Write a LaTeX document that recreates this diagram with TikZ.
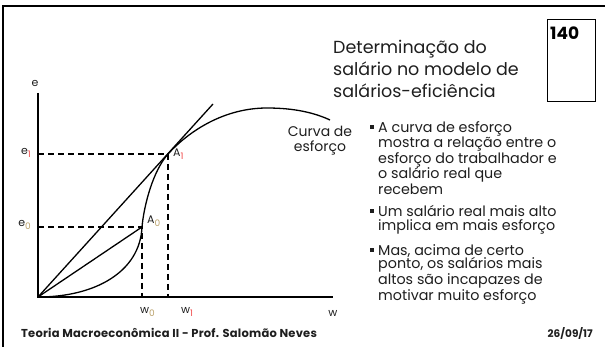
\documentclass[tikz,border=0pt]{standalone}
\usepackage{fontspec}
\setmainfont{Poppins}
\definecolor{subred}{RGB}{240,70,70}
\definecolor{subtan}{RGB}{185,160,105}
\definecolor{txt}{RGB}{30,30,30}
\newcommand{\sred}[1]{\raisebox{-0.45ex}{\fontsize{9}{9}\selectfont\color{subred}#1}}
\newcommand{\stan}[1]{\raisebox{-0.45ex}{\fontsize{9}{9}\selectfont\color{subtan}#1}}
\tikzset{
  axisline/.style={line width=1.8pt},
  curveline/.style={line width=1.3pt},
  guide/.style={line width=1.3pt, dash pattern=on 6pt off 4pt},
  lbl/.style={inner sep=0pt, font=\fontsize{11}{11}\selectfont, text=txt},
  bulletbox/.style={anchor=north west, inner sep=0pt, align=left, text=txt,
     font=\fontsize{14.3}{13.9}\selectfont},
  sq/.style={fill=txt, minimum size=4pt, inner sep=0pt},
  foottext/.style={inner sep=0pt, text=txt},
}
\begin{document}
\begin{tikzpicture}[x=1pt,y=-1pt]
\useasboundingbox (0,0) rectangle (608,347);
% frame
\draw[line width=2pt] (3,347) -- (3,6) -- (605,6);
% number box
\draw[line width=0.7pt] (547,19) rectangle (595,101);
\node[anchor=west, inner sep=0pt, font=\fontsize{17}{17}\selectfont\bfseries] (num) at (550,33) {140};
% title
\node[anchor=north west, inner sep=0pt, align=left, text=txt,
  font=\fontsize{17.5}{22}\selectfont] (title) at (333,40)
  {Determinação do\\salário no modelo de\\salários-eficiência};
% axes
\coordinate (O) at (38,297);
\coordinate (ytop) at (38,93);
\coordinate (xend) at (333,297);
\coordinate (A1) at (168,154);
\coordinate (A0) at (142,227);
\coordinate (e1) at (38,154);
\coordinate (e0) at (38,227);
\coordinate (w1) at (168,297);
\coordinate (w0) at (142,297);
\coordinate (tanend) at (213,104);
\draw[axisline] (ytop) -- (O) -- (xend);
% guides
\draw[guide] (e1) -- (A1) -- (w1);
\draw[guide] (e0) -- (A0) -- (w0);
% lines from origin
\draw[curveline] (O) -- (tanend);
\draw[curveline] (O) -- (A0);
% effort curve
\draw[curveline] (O) .. controls (95,297) and (140,272) .. (A0)
  .. controls (144,205) and (153,171) .. (A1)
  .. controls (190,130) and (225,108) .. (267,108)
  .. controls (295,108) and (315,113) .. (330,120);
% axis labels
\node[lbl] (ey) at (35,83) {e};
\node[lbl] (we) at (333,313) {w};
\node[lbl, anchor=east] (le1) at (31,153) {e\sred{1}};
\node[lbl, anchor=east] (le0) at (31,225) {e\stan{0}};
\node[lbl, anchor=west] (lw0) at (140,312) {w\stan{0}};
\node[lbl, anchor=west] (lw1) at (181,312) {w\sred{1}};
\node[lbl, anchor=west] (lA1) at (173,154) {A\sred{1}};
\node[lbl, anchor=west] (lA0) at (147,221) {A\stan{0}};
% curve label
\node[anchor=center, inner sep=0pt, align=center, text=txt,
  font=\fontsize{14}{15}\selectfont] (clab) at (320,141) {Curva de\\esforço};
% bullets
\node[bulletbox] (b1) at (378,121) {A curva de esforço\\mostra a relação entre o\\esforço do trabalhador e\\o salário real que\\recebem};
\node[bulletbox] (b2) at (378,205) {Um salário real mais alto\\implica em mais esforço};
\node[bulletbox] (b3) at (378,244) {Mas, acima de certo\\ponto, os salários mais\\altos são incapazes de\\motivar muito esforço};
\node[sq] (s1) at (372,127) {};
\node[sq] (s2) at (372,211) {};
\node[sq] (s3) at (372,250) {};
% footer
\node[foottext, anchor=west, font=\fontsize{11.5}{11.5}\selectfont\bfseries\addfontfeatures{LetterSpace=2}] (foot) at (21,333) {Teoria Macroeconômica II - Prof. Salomão Neves};
\node[foottext, anchor=east, font=\fontsize{10.5}{10.5}\selectfont\bfseries] (date) at (593,333) {26/09/17};
\end{tikzpicture}
\end{document}
